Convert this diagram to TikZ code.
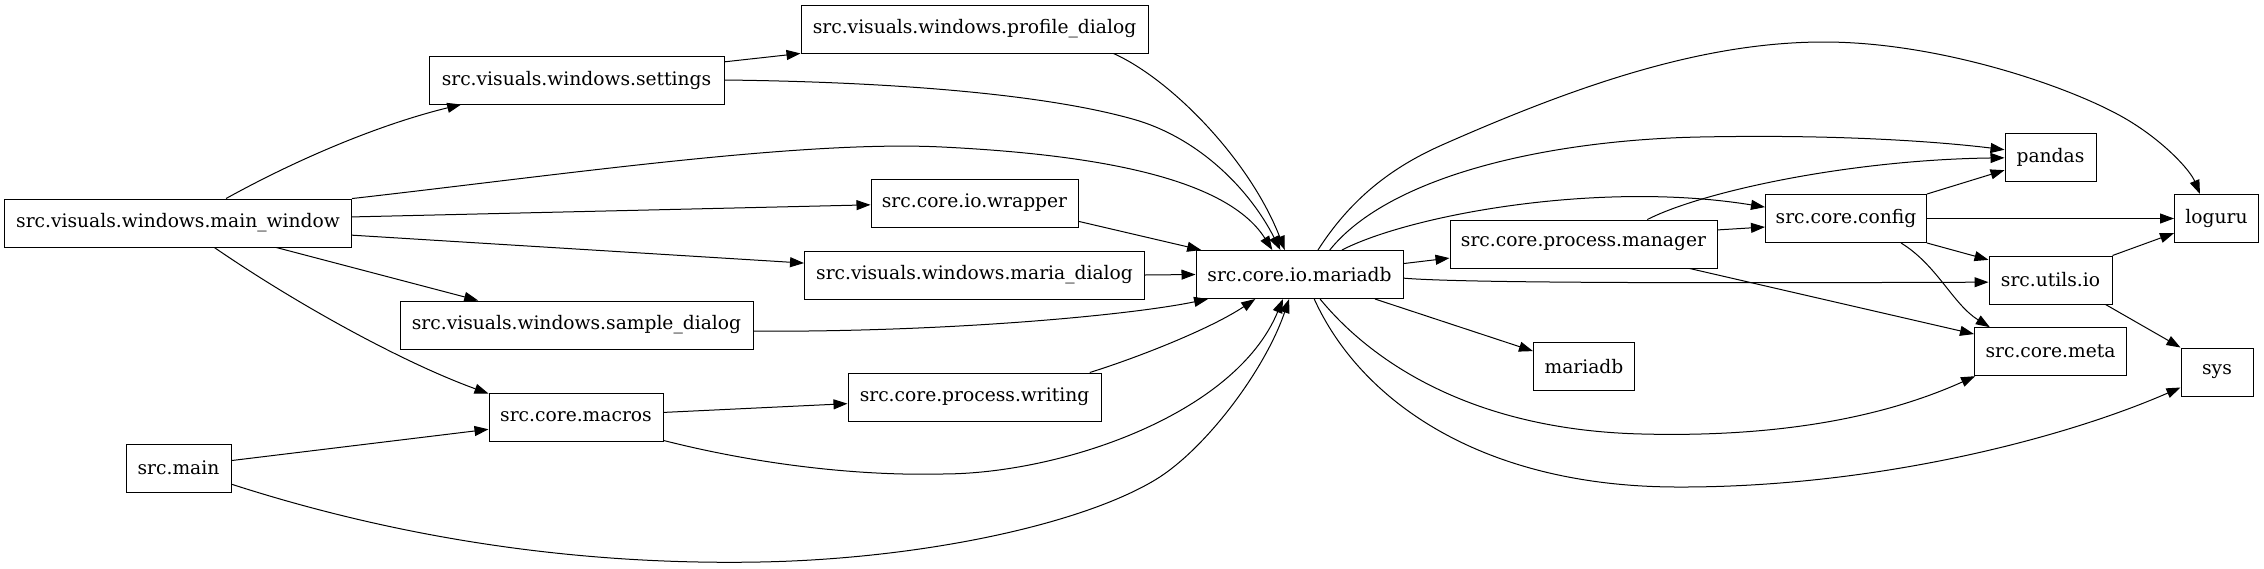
\documentclass[tikz,border=0pt]{standalone}
\usepackage{fontspec}
\setmainfont{DejaVu Serif}
\usetikzlibrary{arrows.meta}

\begin{document}
\begin{tikzpicture}[x=0.75pt, y=-0.75pt, >={Triangle[length=10.5pt,width=7.5pt]},
    mod/.style={draw, line width=0.75pt, minimum height=36pt, inner xsep=3pt, inner ysep=0pt, font=\fontsize{14}{16}\selectfont},
    dep/.style={->, line width=0.75pt}]
    \useasboundingbox (0,0) rectangle (2264,568);

    % Left side: windows and entry points
    \node[mod, minimum width=260.25pt] (mw) at (178,223) {src.visuals.windows.main\_window};
    \node[mod, minimum width=221.25pt] (set) at (576.5,80) {src.visuals.windows.settings};
    \node[mod, minimum width=264.75pt] (samp) at (576.5,325) {src.visuals.windows.sample\_dialog};
    \node[mod, minimum width=130.5pt] (mac) at (576,417) {src.core.macros};
    \node[mod, minimum width=78.75pt] (main) at (178.5,468) {src.main};
    \node[mod, minimum width=260.25pt] (prof) at (974.5,29) {src.visuals.windows.profile\_dialog};
    \node[mod, minimum width=155.25pt] (wrap) at (974.5,203) {src.core.io.wrapper};
    \node[mod, minimum width=255pt] (mdlg) at (974.5,275) {src.visuals.windows.maria\_dialog};
    \node[mod, minimum width=189.75pt] (wrt) at (974.5,397) {src.core.process.writing};

    % Middle: database layer
    \node[mod, minimum width=155.25pt] (mdb) at (1299.5,274.5) {src.core.io.mariadb};
    \node[mod, minimum width=200.25pt] (mgr) at (1583.5,244) {src.core.process.manager};
    \node[mod, minimum width=75.75pt] (mpkg) at (1584,366.7) {mariadb};

    % Right side: config, utils and packages
    \node[mod, minimum width=120.75pt] (cfg) at (1846,218.5) {src.core.config};
    \node[mod, minimum width=68.25pt] (pd) at (2050.5,157) {pandas};
    \node[mod, minimum width=92.25pt] (uio) at (2050.5,280) {src.utils.io};
    \node[mod, minimum width=114pt] (meta) at (2050.5,351.7) {src.core.meta};
    \node[mod, minimum width=63pt] (lg) at (2216.5,218.5) {loguru};
    \node[mod, minimum width=54pt] (sys) at (2217,372) {sys};

    % Straight dependencies
    \foreach \a/\b in {mw.2/wrap.181, mw.-4/mdlg.176, mw.-14/samp.166, set.7/prof.188,
        wrap.-10/mdb.166, mdlg.east/mdb.west, mac.3/wrt.183, main.8/mac.188,
        mdb.6/mgr.186, mdb.-18/mpkg.163, mgr.6/cfg.186, mgr.-13/meta.167,
        cfg.north east/pd.196, cfg.east/lg.west, cfg.south east/uio.162,
        uio.north east/lg.199, uio.-24/sys.north west} {
        \draw[dep] (\a) -- (\b);
    }

    % Curved dependencies
    \draw[dep] (mw.27) .. controls +(76,-42) and +(-78,19) .. (set.192);
    \draw[dep] (mw.8) .. controls (560,175) and (800,140) .. (942,147)
        .. controls (1084,154) and (1225,175) .. (mdb.138);
    \draw[dep] (mw.-34) .. controls +(86,59) and +(-83,-30) .. (mac.165);
    \draw[dep] (set.east) .. controls (900,82) and (1050,95) .. (1136,120)
        .. controls (1200,139) and (1250,190) .. (mdb.128);
    \draw[dep] (prof.-10) .. controls +(58,26) and +(-35,-90) .. (mdb.121);
    \draw[dep] (samp.-2) .. controls +(197,1) and +(-77,16) .. (mdb.195);
    \draw[dep] (mac.-15) .. controls (760,465) and (860,476) .. (942,474)
        .. controls (1060,474) and (1235,415) .. (mdb.236);
    \draw[dep] (wrt.12) .. controls +(48,-15) and +(-45,30) .. (mdb.209);
    \draw[dep] (main.-17) .. controls (420,545) and (600,565) .. (760,562)
        .. controls (920,559) and (1080,525) .. (1155,480)
        .. controls (1205,450) and (1265,370) .. (mdb.247);
    \draw[dep] (mdb.30) .. controls +(68,-35) and +(-166,-27) .. (cfg.172);
    \draw[dep] (mdb.39) .. controls (1390,175) and (1550,140) .. (1700,137)
        .. controls (1850,134) and (1950,143) .. (pd.171);
    \draw[dep] (mdb.53) .. controls (1350,200) and (1390,168) .. (1442,145)
        .. controls (1580,84) and (1704,42) .. (1824,42)
        .. controls (1944,42) and (2080,90) .. (2131,122)
        .. controls (2165,143) and (2190,170) .. (lg.124);
    \draw[dep] (mdb.-2) .. controls +(58,5) and +(-289,1) .. (uio.182);
    \draw[dep] (mdb.-50) .. controls (1370,360) and (1470,430) .. (1642,434)
        .. controls (1800,438) and (1900,410) .. (meta.198);
    \draw[dep] (mdb.-59) .. controls (1360,400) and (1480,486) .. (1675,487)
        .. controls (1870,488) and (2060,440) .. (sys.203);
    \draw[dep] (mgr.21) .. controls +(55,-28) and +(-155,2) .. (pd.181);
    \draw[dep] (cfg.-24) .. controls +(36,22) and +(-37,-23) .. (meta.158);
\end{tikzpicture}
\end{document}
